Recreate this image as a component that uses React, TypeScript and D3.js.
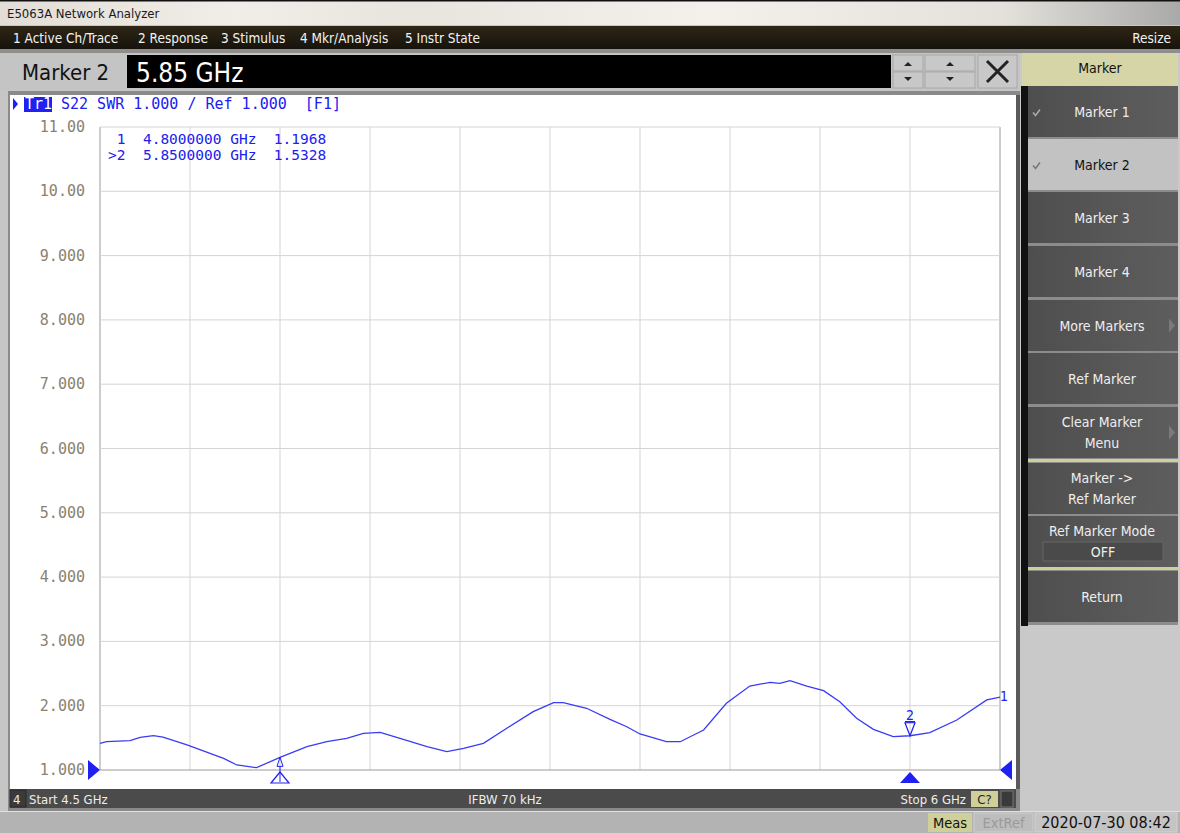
import * as d3 from 'd3';

const W = 1180;
const H = 833;
const PLOT = { left: 100, right: 1000, top: 127, bottom: 770 };

// trace S22 SWR
const freqGHz = [
  4.5, 4.511, 4.55, 4.567, 4.589, 4.605, 4.645, 4.706, 4.728, 4.761, 4.8, 4.845, 4.878, 4.911,
  4.939, 4.967, 5.0, 5.045, 5.078, 5.106, 5.139, 5.178, 5.222, 5.256, 5.272, 5.311, 5.35, 5.378,
  5.4, 5.444, 5.467, 5.506, 5.544, 5.583, 5.617, 5.633, 5.65, 5.678, 5.706, 5.733, 5.761, 5.789,
  5.822, 5.85, 5.883, 5.928, 5.978, 6.0,
];
const swr = [
  1.415, 1.44, 1.456, 1.509, 1.533, 1.513, 1.389, 1.182, 1.078, 1.036, 1.197, 1.362, 1.44, 1.493,
  1.571, 1.586, 1.493, 1.362, 1.285, 1.337, 1.415, 1.649, 1.907, 2.047, 2.047, 1.96, 1.788, 1.673,
  1.56, 1.44, 1.44, 1.622, 2.037, 2.306, 2.364, 2.348, 2.389, 2.306, 2.233, 2.062, 1.804, 1.633,
  1.518, 1.533, 1.58, 1.778, 2.089, 2.135,
];

const yTicks = [11, 10, 9, 8, 7, 6, 5, 4, 3, 2, 1];
const yTickLabels = ['11.00', '10.00', '9.000', '8.000', '7.000', '6.000', '5.000', '4.000', '3.000', '2.000', '1.000'];
const xDivs = d3.range(0, 11);

const menuItems = ['1 Active Ch/Trace', '2 Response', '3 Stimulus', '4 Mkr/Analysis', '5 Instr State'];
const menuX = [13, 138, 221, 300, 405];

const markerFreq = [4.8, 5.85];
const markerVal = [1.1968, 1.5328];

const softkeys = [
  { lines: ['Marker 1'], check: true },
  { lines: ['Marker 2'], check: true, selected: true },
  { lines: ['Marker 3'] },
  { lines: ['Marker 4'] },
  { lines: ['More Markers'], arrow: true },
  { lines: ['Ref Marker'] },
  { lines: ['Clear Marker', 'Menu'], arrow: true },
  { lines: ['Marker ->', 'Ref Marker'] },
  { lines: ['Ref Marker Mode'], box: 'OFF' },
  { lines: ['Return'] },
];
const keyTops = [86, 139, 192, 246, 300, 353, 407, 463, 516, 571];
const keyH = 51;

const MONO = '"DejaVu Sans Mono", monospace';
const UI = '"DejaVu Sans Condensed", "DejaVu Sans", sans-serif';
const BLUE = '#2020f0';

export default function App() {
  const x = d3.scaleLinear().domain([4.5, 6.0]).range([PLOT.left, PLOT.right]);
  const y = d3.scaleLinear().domain([1, 11]).range([PLOT.bottom, PLOT.top]);
  const pts = freqGHz.map((f, i) => [f, swr[i]] as [number, number]);
  const line = d3.line<[number, number]>().x((d) => x(d[0])).y((d) => y(d[1]));
  const xStep = (PLOT.right - PLOT.left) / 10;

  const m1x = x(markerFreq[0]);
  const m1y = y(markerVal[0]);
  const m2x = x(markerFreq[1]);
  const m2y = y(markerVal[1]);

  return (
    <svg width={W} height={H} style={{ position: 'absolute', left: 0, top: 0, display: 'block' }}>
      <defs>
        <linearGradient id="titleG" x1="0" x2="1" y1="0" y2="0">
          <stop offset="0" stopColor="#e2ddd6" />
          <stop offset="0.2" stopColor="#f1ede8" />
          <stop offset="0.35" stopColor="#e8e4de" />
          <stop offset="0.6" stopColor="#f4f1ed" />
          <stop offset="0.85" stopColor="#e4e1dc" />
          <stop offset="1" stopColor="#a9a9a9" />
        </linearGradient>
        <linearGradient id="menuG" x1="0" x2="0" y1="0" y2="1">
          <stop offset="0" stopColor="#2e2616" />
          <stop offset="1" stopColor="#17130c" />
        </linearGradient>
        <linearGradient id="keyG" x1="0" x2="1" y1="0" y2="0">
          <stop offset="0" stopColor="#4e4e4e" />
          <stop offset="1" stopColor="#5e5e5e" />
        </linearGradient>
      </defs>

      {/* background */}
      <rect width={W} height={H} fill="#c6c6c6" />

      {/* title bar */}
      <rect x={0} y={0} width={W} height={25} fill="url(#titleG)" />
      <rect x={0} y={0} width={W} height={1.5} fill="#111" />
      <text x={7} y={18} fontFamily={UI} fontSize={13} fill="#1a1a1a">E5063A Network Analyzer</text>

      {/* menu bar */}
      <rect x={0} y={26} width={W} height={23} fill="url(#menuG)" />
      {menuItems.map((m, i) => (
        <text key={m} x={menuX[i]} y={43} fontFamily={UI} fontSize={13.5} fill="#f2f2f2">{m}</text>
      ))}
      <text x={1171} y={43} textAnchor="end" fontFamily={UI} fontSize={13.5} fill="#f2f2f2">Resize</text>
      <rect x={0} y={49} width={W} height={4} fill="#8e8e8e" />

      {/* entry bar */}
      <rect x={0} y={53} width={1020} height={37} fill="#c4c4c4" />
      <text x={22} y={80} fontFamily={UI} fontSize={22} fill="#111">Marker 2</text>
      <rect x={127} y={55} width={764} height={33} fill="#000" />
      <text x={136} y={82} fontFamily={UI} fontSize={26} fill="#fff">5.85 GHz</text>
      {[[893, 30], [925, 50]].map(([bx, bw]) => (
        <g key={bx}>
          <rect x={bx} y={55} width={bw} height={16} fill="#c8c8c8" stroke="#a8a8a8" />
          <rect x={bx} y={72} width={bw} height={16} fill="#c8c8c8" stroke="#a8a8a8" />
          <path d={`M${bx + bw / 2 - 4},66 l4,-4 l4,4 z`} fill="#222" />
          <path d={`M${bx + bw / 2 - 4},77 l4,4 l4,-4 z`} fill="#222" />
        </g>
      ))}
      <rect x={978} y={55} width={39} height={33} fill="#c8c8c8" stroke="#a8a8a8" />
      <path d="M987,61 L1008,82 M1008,61 L987,82" stroke="#222" strokeWidth={3} />

      {/* chart window */}
      <rect x={8} y={91} width={1012} height={720} fill="#8a8a8a" />
      <rect x={10} y={95} width={1006} height={694} fill="#fff" />
      <rect x={1016} y={95} width={4} height={694} fill="#5a5a5a" />

      {/* grid */}
      {xDivs.map((i) => (
        <line key={'gx' + i} x1={PLOT.left + i * xStep} x2={PLOT.left + i * xStep} y1={PLOT.top} y2={PLOT.bottom}
          stroke={i === 0 || i === 10 ? '#9a9a9a' : '#d4d4d4'} strokeWidth={1} />
      ))}
      {yTicks.map((t) => (
        <line key={'gy' + t} x1={PLOT.left} x2={PLOT.right} y1={y(t)} y2={y(t)}
          stroke={t === 1 ? '#9a9a9a' : '#d4d4d4'} strokeWidth={1} />
      ))}
      {yTicks.map((t, i) => (
        <text key={'ty' + t} x={85} y={y(t) + 5} textAnchor="end" fontFamily={MONO} fontSize={15} fill="#8a8270">
          {yTickLabels[i]}
        </text>
      ))}

      {/* trace header */}
      <path d="M13,98 l5,6 l-5,6 z" fill={BLUE} />
      <rect x={24} y={97} width={28} height={15} fill={BLUE} />
      <text x={25} y={109} fontFamily={MONO} fontSize={15} fill="#fff">Tr1</text>
      <text x={61} y={109} fontFamily={MONO} fontSize={15} fill={BLUE} style={{ whiteSpace: 'pre' }}>
        S22 SWR 1.000 / Ref 1.000  [F1]
      </text>

      {/* marker readout */}
      <text x={108} y={144} fontFamily={MONO} fontSize={14.5} fill={BLUE} style={{ whiteSpace: 'pre' }}>
        {` 1  ${markerFreq[0].toFixed(7)} GHz  ${markerVal[0].toFixed(4)}`}
      </text>
      <text x={108} y={160} fontFamily={MONO} fontSize={14.5} fill={BLUE} style={{ whiteSpace: 'pre' }}>
        {`>2  ${markerFreq[1].toFixed(7)} GHz  ${markerVal[1].toFixed(4)}`}
      </text>

      {/* trace */}
      <path d={line(pts) ?? ''} fill="none" stroke="#3b3bf5" strokeWidth={1.3} />
      <text x={1000} y={701} fontFamily={UI} fontSize={14} fill={BLUE}>1</text>

      {/* reference markers */}
      <path d={`M88,${y(1) - 10} L100,${y(1)} L88,${y(1) + 10} Z`} fill={BLUE} />
      <path d={`M1012,${y(1) - 10} L1000,${y(1)} L1012,${y(1) + 10} Z`} fill={BLUE} />

      {/* marker 1 (inactive) */}
      <path d={`M${m1x},${m1y} l-3,9 l6,0 z`} fill="none" stroke={BLUE} strokeWidth={1} />
      <line x1={m1x} x2={m1x} y1={m1y + 9} y2={782} stroke={BLUE} strokeWidth={1} />
      <path d={`M${m1x},772 l-9,11 l18,0 z`} fill="none" stroke={BLUE} strokeWidth={1.2} />

      {/* marker 2 (active) */}
      <path d={`M${m2x - 5},${m2y - 13} l10,0 l-5,13 z`} fill="none" stroke={BLUE} strokeWidth={1.2} />
      <line x1={m2x - 5} x2={m2x + 5} y1={m2y - 14} y2={m2y - 14} stroke={BLUE} strokeWidth={1.5} />
      <text x={m2x} y={m2y - 16} textAnchor="middle" fontFamily={UI} fontSize={14} fill={BLUE}>2</text>
      <path d={`M${m2x},772 l-10,11 l20,0 z`} fill={BLUE} />

      {/* status bar */}
      <rect x={10} y={789} width={1006} height={19} fill="#4b4b4b" />
      <rect x={10} y={790} width={16} height={17} fill="#3a3a3a" stroke="#2a2a2a" />
      <text x={13} y={804} fontFamily={UI} fontSize={13} fill="#eee">4</text>
      <text x={29} y={804} fontFamily={UI} fontSize={13} fill="#eee">Start 4.5 GHz</text>
      <text x={505} y={804} textAnchor="middle" fontFamily={UI} fontSize={13} fill="#eee">IFBW 70 kHz</text>
      <text x={966} y={804} textAnchor="end" fontFamily={UI} fontSize={13} fill="#eee">Stop 6 GHz</text>
      <rect x={971} y={791} width={27} height={16} fill="#cfcf9a" />
      <text x={984.5} y={804} textAnchor="middle" fontFamily={UI} fontSize={13} fill="#222">C?</text>
      <rect x={1001} y={791} width={12} height={16} fill="#3a3a3a" stroke="#777" />

      {/* bottom bar */}
      <rect x={0} y={811} width={W} height={22} fill="#b3b3b3" />
      <rect x={0} y={811} width={W} height={1} fill="#e0e0e0" />
      <rect x={928} y={813} width={44} height={19} fill="#cfcf9a" />
      <text x={950} y={828} textAnchor="middle" fontFamily={UI} fontSize={14.5} fill="#111">Meas</text>
      <rect x={974} y={813} width={59} height={19} fill="#bdbdbd" stroke="#cfcfcf" />
      <text x={1003.5} y={828} textAnchor="middle" fontFamily={UI} fontSize={14.5} fill="#9a9a9a">ExtRef</text>
      <rect x={1035} y={813} width={142} height={19} fill="#c4c4c4" stroke="#d2d2d2" />
      <text x={1106} y={828} textAnchor="middle" fontFamily={UI} fontSize={16} fill="#111">2020-07-30 08:42</text>

      {/* softkey panel */}
      <rect x={1020} y={53} width={160} height={758} fill="#c9c9c9" />
      <rect x={1022} y={53} width={156} height={33} fill="#d5d5a8" />
      <text x={1100} y={73} textAnchor="middle" fontFamily={UI} fontSize={14} fill="#111">Marker</text>
      <rect x={1021} y={86} width={7} height={540} fill="#111" />
      <rect x={1028} y={86} width={150} height={539} fill="#8c8c8c" />
      <rect x={1028} y={459} width={150} height={3} fill="#cfcf9a" />
      <rect x={1028} y={567} width={150} height={3} fill="#cfcf9a" />
      {softkeys.map((k, i) => {
        const top = keyTops[i];
        const cy = top + keyH / 2;
        const sel = !!k.selected;
        return (
          <g key={k.lines.join(' ')}>
            <rect x={1028} y={top} width={150} height={keyH} fill={sel ? '#c2c2c2' : 'url(#keyG)'} />
            {k.check && (
              <path d={`M1033,${cy + 1} l2.5,3 l4.5,-6`} fill="none" stroke={sel ? '#777' : '#aaa'} strokeWidth={1.5} />
            )}
            {k.arrow && <path d={`M1169,${cy - 7} l6,7 l-6,7 z`} fill="#7a7a7a" />}
            {k.box ? (
              <>
                <text x={1102} y={top + 20} textAnchor="middle" fontFamily={UI} fontSize={14} fill="#eee">{k.lines[0]}</text>
                <rect x={1043} y={top + 26} width={120} height={19} fill="#4a4a4a" stroke="#666" />
                <text x={1103} y={top + 41} textAnchor="middle" fontFamily={UI} fontSize={14} fill="#eee">{k.box}</text>
              </>
            ) : (
              k.lines.map((l, j) => (
                <text key={l} x={1102} y={cy + 5 + (j - (k.lines.length - 1) / 2) * 21} textAnchor="middle"
                  fontFamily={UI} fontSize={14} fill={sel ? '#111' : '#eee'}>{l}</text>
              ))
            )}
          </g>
        );
      })}
    </svg>
  );
}
